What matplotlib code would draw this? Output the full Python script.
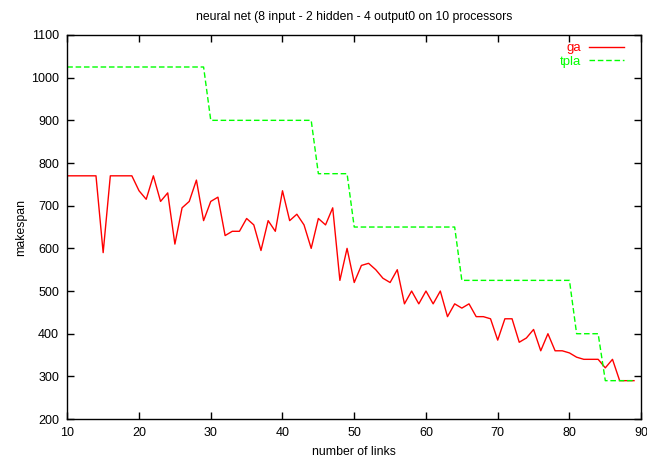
import numpy as np
import matplotlib.pyplot as plt

plt.rcParams['font.family'] = ['Liberation Sans', 'DejaVu Sans']

links = np.arange(10, 90)

ga = [770, 770, 770, 770, 770, 590, 770, 770, 770, 770,
      735, 715, 770, 710, 730, 610, 695, 710, 760, 665,
      710, 720, 630, 640, 640, 670, 655, 595, 665, 640,
      735, 665, 680, 655, 600, 670, 655, 695, 525, 600,
      520, 560, 565, 550, 530, 520, 550, 470, 500, 470,
      500, 470, 500, 440, 470, 460, 470, 440, 440, 435,
      385, 435, 435, 380, 390, 410, 360, 400, 360, 360,
      355, 345, 340, 340, 340, 320, 340, 290, 290, 290]

tpla = [1025] * 20 + [900] * 15 + [775] * 5 + [650] * 15 + [525] * 16 + [400] * 4 + [290] * 5

fig = plt.figure(figsize=(6.47, 4.58), dpi=100)
ax = fig.add_axes([0.104, 0.085, 0.887, 0.8386])

ax.plot(links, ga, color='#ff0000', lw=1, label='ga')
ax.plot(links, tpla, color='#00ff00', lw=1, ls=(0, (4, 2)), label='tpla')

ax.set_xlim(10, 90)
ax.set_ylim(200, 1100)
ax.set_xticks(range(10, 91, 10))
ax.set_yticks(range(200, 1101, 100))
ax.tick_params(direction='in', top=True, right=True, labelsize=9, length=5, width=1, pad=6)
for s in ax.spines.values():
    s.set_linewidth(1)

ax.set_title('neural net (8 input - 2 hidden - 4 output0 on 10 processors', fontsize=8.8, pad=11)
ax.set_xlabel('number of links', fontsize=8.8, labelpad=5)
ax.set_ylabel('makespan', fontsize=8.8, labelpad=3)

leg = ax.legend(loc='upper right', frameon=False, markerfirst=False, fontsize=9.5,
                handlelength=2.65, labelspacing=0.1, borderaxespad=0.0, handletextpad=0.6,
                bbox_to_anchor=(0.98, 0.995))
for txt, c in zip(leg.get_texts(), ['#ff0000', '#00ff00']):
    txt.set_color(c)

fig.savefig('out.png', dpi=100)
